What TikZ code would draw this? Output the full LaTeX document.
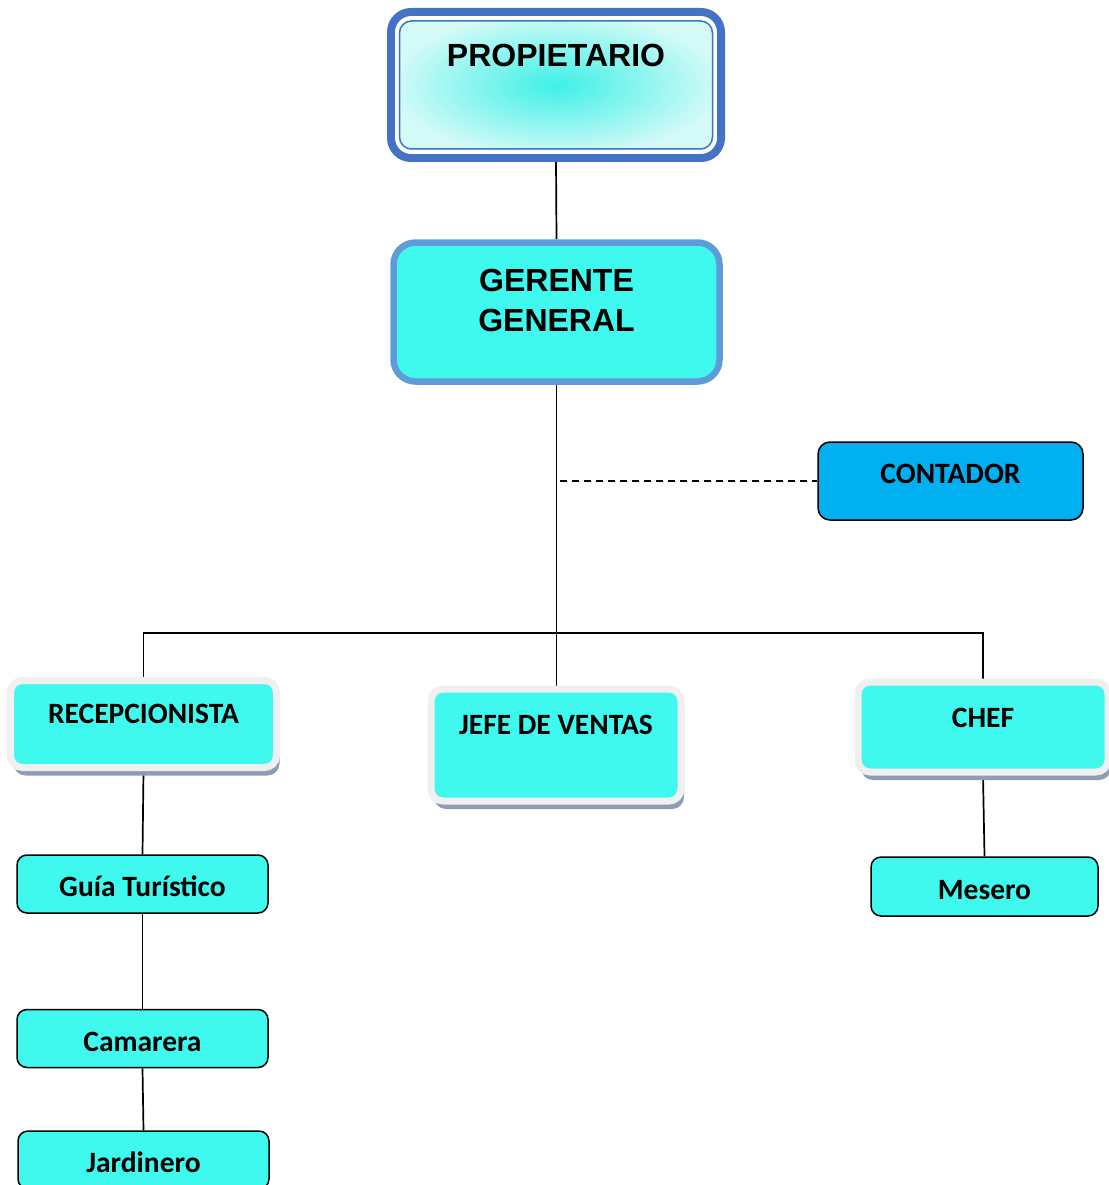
\documentclass[tikz,border=0pt]{standalone}
\usepackage{fontspec}
\setmainfont{Carlito}
\newfontfamily\arialfont{Liberation Sans}
\usepackage{tikz}
\usetikzlibrary{shadows,backgrounds,calc}
\definecolor{cian}{HTML}{3FF8EE}
\definecolor{cianclaro}{HTML}{D4FAF8}
\definecolor{cianfuerte}{HTML}{3EF0E6}
\definecolor{azulprop}{HTML}{4472C4}
\definecolor{azulger}{HTML}{5F9BD6}
\definecolor{azulcont}{HTML}{00B0F0}
\definecolor{marco}{HTML}{F0F0F0}
\definecolor{sombra}{HTML}{8E9CB4}

\begin{document}
\begin{tikzpicture}[x=1pt,y=-1pt,
  every node/.style={align=center,inner sep=0pt,font=\bfseries\fontsize{29.5}{34}\selectfont},
  cargo/.style={draw,line width=1.5pt,rounded corners=10pt,fill=cian,minimum width=251pt,minimum height=58pt,text height=25pt,text depth=0pt},
  area/.style={draw=marco,line width=7pt,rounded corners=12pt,fill=cian,drop shadow={shadow xshift=3pt,shadow yshift=-8pt,fill=sombra,opacity=1}},
  titulo/.style={font=\arialfont\bfseries\fontsize{32}{40}\selectfont},
  enlace/.style={line width=1.7pt}]
\useasboundingbox (0,0) rectangle (1108,1185);

\node (prop) at (556,85) [titulo,draw=azulprop,line width=8pt,rounded corners=20pt,inner color=cianfuerte,outer color=cianclaro,minimum width=330pt,minimum height=146pt,text depth=60pt] {PROPIETARIO};
\draw[white,line width=3.5pt,rounded corners=15pt] ([xshift=9.9pt,yshift=9.9pt]prop.south west) rectangle ([xshift=-9.9pt,yshift=-9.9pt]prop.north east);
\draw[azulprop,line width=1.5pt,rounded corners=12pt] ([xshift=12.5pt,yshift=13pt]prop.south west) rectangle ([xshift=-12.5pt,yshift=-13pt]prop.north east);

\node (ger) at (556.5,312) [titulo,draw=azulger,line width=6.5pt,rounded corners=22pt,fill=cian,minimum width=326pt,minimum height=139pt,text depth=24pt] {GERENTE\\GENERAL};

\node (cont) at (950.5,481) [draw,line width=1.5pt,rounded corners=12pt,fill=azulcont,minimum width=265pt,minimum height=78pt,text depth=14pt] {CONTADOR};

\node (recep) at (143.5,724) [area,minimum width=266pt,minimum height=87pt,text depth=20pt] {RECEPCIONISTA};
\node (jefe) at (556,745) [area,minimum width=250pt,minimum height=112pt,text depth=40pt] {JEFE DE VENTAS};
\node (chef) at (983,727) [area,minimum width=250pt,minimum height=90pt,text depth=19pt] {CHEF};

\node (guia) at (142.5,884) [cargo] {Guía Turístico};
\node (cam) at (142.5,1038.5) [cargo] {Camarera};
\node (jard) at (143.5,1160) [cargo] {Jardinero};
\node (mes) at (984.5,886.5) [cargo,minimum width=227pt,minimum height=59pt] {Mesero};

\coordinate (bus) at (556,633);
\coordinate (guion) at (560,481);

\begin{scope}[on background layer]
\draw[enlace] (prop.south) -- (ger.north);
\draw[enlace] (ger.south) -- (ger.south |- jefe.north);
\draw[enlace] (recep.north) |- (bus) -| (chef.north);
\draw[enlace,line width=1.5pt,dash pattern=on 7pt off 5pt] (guion) -- (cont.west);
\draw[enlace] (recep.south) -- (guia.north);
\draw[enlace] (guia.south) -- (cam.north);
\draw[enlace] (cam.south) -- (jard.north);
\draw[enlace] (chef.south) -- (mes.north);
\end{scope}
\end{tikzpicture}
\end{document}
